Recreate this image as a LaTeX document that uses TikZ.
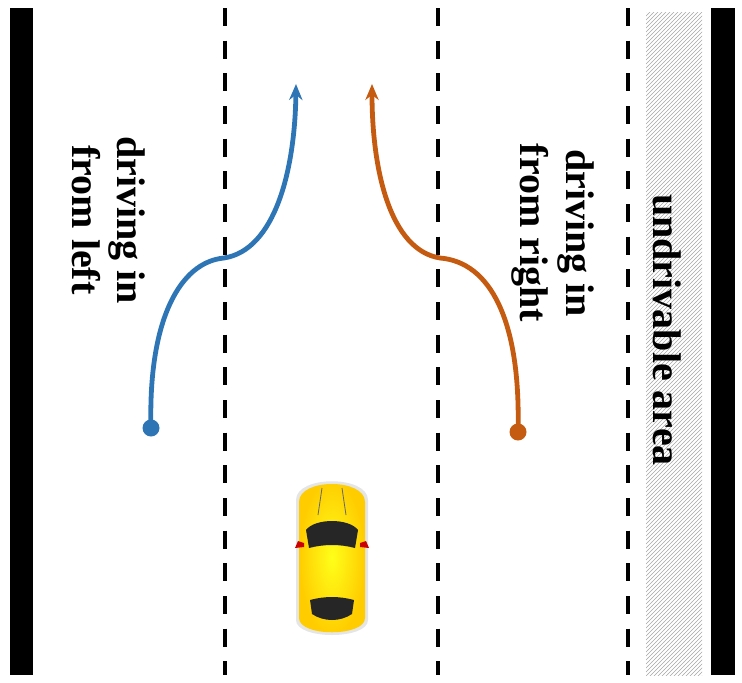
\documentclass[tikz,border=0pt]{standalone}
\usepackage{fontspec}
\setmainfont{Liberation Serif}
\usetikzlibrary{patterns,arrows.meta}
\begin{document}
\begin{tikzpicture}[x=0.75pt,y=-0.75pt,
  bar/.style={fill=black,draw=none},
  lane/.style={line width=2.4pt,dash pattern=on 13.5pt off 11pt},
  route/.style={line width=3.6pt,-{Stealth[length=12pt,width=10pt]}},
  lbl/.style={font=\bfseries\fontsize{30}{34}\selectfont,rotate=-90,align=center}]
\useasboundingbox (0,0) rectangle (742,682);
\fill[bar] (10,8) rectangle (33,675);
\fill[bar] (711,8) rectangle (735,675);
\fill[pattern=north east lines,pattern color=gray!70] (646,12) rectangle (702,675);
\foreach \x in {225,438,628} \draw[lane] (\x,8) -- (\x,675);
\definecolor{bl}{RGB}{46,117,182}
\definecolor{or}{RGB}{197,90,17}
\coordinate (b0) at (151,428); \coordinate (b1) at (224,258); \coordinate (b2) at (296,84);
\coordinate (o0) at (518,432); \coordinate (o1) at (440,258); \coordinate (o2) at (372,84);
\draw[route,bl] (b0) .. controls (148,320) and (180,262) .. (b1) .. controls (275,250) and (295,170) .. (b2);
\fill[bl] (b0) circle (8.5);
\draw[route,or] (o0) .. controls (521,320) and (490,262) .. (o1) .. controls (390,250) and (372,170) .. (o2);
\fill[or] (o0) circle (8.5);
\node[lbl] (tl) at (109,220) {driving in\\from left};
\node[lbl] (tr) at (553,233) {driving in\\from right};
\node[lbl] (ua) at (667,330) {undrivable area};
% car
\begin{scope}
\fill[gray!20] (296,500) .. controls (296,475) and (368,475) .. (368,500) -- (368,620) .. controls (368,640) and (296,640) .. (296,620) -- cycle;
\shade[inner color=yellow!90!white,outer color=yellow!60!orange] (299,502) .. controls (299,478) and (365,478) .. (365,502) -- (365,618) .. controls (365,637) and (299,637) .. (299,618) -- cycle;
\fill[black!85] (306,530) .. controls (315,518) and (349,518) .. (358,530) -- (355,548) .. controls (340,544) and (324,544) .. (309,548) -- cycle;
\fill[black!85] (310,600) .. controls (325,596) and (339,596) .. (354,600) -- (352,614) .. controls (340,622) and (324,622) .. (312,614) -- cycle;
\fill[red!80!black] (298,541) -- (304,543) -- (304,547) -- (295,548) -- cycle;
\fill[red!80!black] (366,541) -- (360,543) -- (360,547) -- (369,548) -- cycle;
\draw[black!60,line width=0.6pt] (322,488) -- (318,515) (342,488) -- (346,515);
\end{scope}
\end{tikzpicture}
\end{document}
